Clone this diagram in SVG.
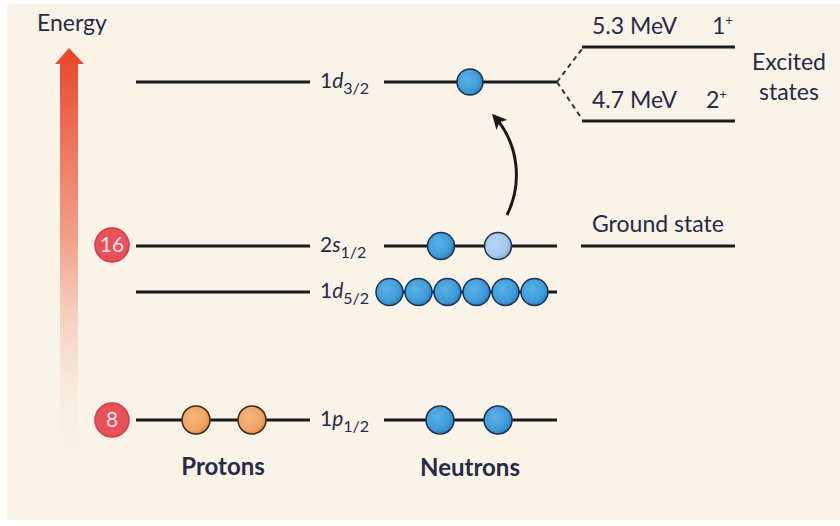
<svg xmlns="http://www.w3.org/2000/svg" width="840" height="526" viewBox="0 0 840 526">
<defs>
<linearGradient id="eg" x1="0" y1="0" x2="0" y2="1">
<stop offset="0" stop-color="#e8432b"/>
<stop offset="0.45" stop-color="#f08a70" stop-opacity="0.8"/>
<stop offset="1" stop-color="#f9f4e7" stop-opacity="0"/>
</linearGradient>
<radialGradient id="nb" cx="0.4" cy="0.4" r="0.65">
<stop offset="0" stop-color="#5ab2e6"/>
<stop offset="0.7" stop-color="#3f9bd8"/>
<stop offset="1" stop-color="#2a78bd"/>
</radialGradient>
<radialGradient id="nl" cx="0.4" cy="0.4" r="0.65">
<stop offset="0" stop-color="#b5d6f2"/>
<stop offset="0.7" stop-color="#a2c8ec"/>
<stop offset="1" stop-color="#7fa9d8"/>
</radialGradient>
<radialGradient id="pb" cx="0.4" cy="0.4" r="0.65">
<stop offset="0" stop-color="#f7b77c"/>
<stop offset="0.7" stop-color="#f3a565"/>
<stop offset="1" stop-color="#e0873c"/>
</radialGradient>
<marker id="ah" viewBox="0 0 10 10" refX="8" refY="5" markerWidth="5" markerHeight="5" orient="auto">
<path d="M0,0 L10,5 L0,10 L2.5,5 Z" fill="#1a1a1a"/>
</marker>
<style>
.lv{stroke:#1a1a1a;stroke-width:3;fill:none}
.t{font-family:Lato,"Open Sans",sans-serif;font-size:23px;fill:#262a48}
.lt{font-family:Lato,"Open Sans",sans-serif;font-size:21px;fill:#262a48}
.b{font-weight:bold;font-size:24px}
.sub{font-size:16px}
.n{fill:url(#nb);stroke:#1d3150;stroke-width:1.5}
.nl{fill:url(#nl);stroke:#1d3150;stroke-width:1.5}
.p{fill:url(#pb);stroke:#3a2a1a;stroke-width:1.5}
.badge{fill:#e8505a;stroke:#d33a47;stroke-width:1.5}
.bt{font-family:Lato,"Open Sans",sans-serif;font-size:21px;fill:#fde4e4;text-anchor:middle}
</style>
</defs>
<rect x="0" y="0" width="840" height="526" fill="#ffffff"/>
<rect x="7" y="4" width="833" height="516" fill="#f9f4e7"/>

<g id="energy-axis">
<path d="M60,64 L55,64 L69,48 L84,64 L78,64 L78,470 L60,470 Z" fill="url(#eg)"/>
<text class="t" x="37" y="31" font-size="21">Energy</text>
</g>

<g id="level-1d32">
<line class="lv" x1="136" y1="82" x2="310" y2="82"/>
<text class="lt" x="320" y="88">1<tspan font-style="italic">d</tspan><tspan class="sub" dy="6">3/2</tspan></text>
<line class="lv" x1="384" y1="82" x2="557" y2="82"/>
<circle class="n" cx="470" cy="82" r="13"/>
</g>

<g id="level-2s12">
<circle class="badge" cx="112" cy="245" r="17"/>
<text class="bt" x="112" y="252">16</text>
<line class="lv" x1="136" y1="246" x2="310" y2="246"/>
<text class="lt" x="320" y="252">2<tspan font-style="italic">s</tspan><tspan class="sub" dy="6">1/2</tspan></text>
<line class="lv" x1="384" y1="246" x2="557" y2="246"/>
<circle class="n" cx="441" cy="246" r="13.5"/>
<circle class="nl" cx="498" cy="246" r="13.5"/>
</g>

<g id="level-1d52">
<line class="lv" x1="136" y1="292" x2="310" y2="292"/>
<text class="lt" x="320" y="298">1<tspan font-style="italic">d</tspan><tspan class="sub" dy="6">5/2</tspan></text>
<line class="lv" x1="380" y1="292" x2="557" y2="292"/>
<circle class="n" cx="389.5" cy="292" r="13.5"/>
<circle class="n" cx="418.5" cy="292" r="13.5"/>
<circle class="n" cx="447.5" cy="292" r="13.5"/>
<circle class="n" cx="476.5" cy="292" r="13.5"/>
<circle class="n" cx="505.5" cy="292" r="13.5"/>
<circle class="n" cx="534.5" cy="292" r="13.5"/>
</g>

<g id="level-1p12">
<circle class="badge" cx="112" cy="420" r="17"/>
<text class="bt" x="112" y="427">8</text>
<line class="lv" x1="136" y1="420" x2="310" y2="420"/>
<circle class="p" cx="196" cy="420" r="14"/>
<circle class="p" cx="252" cy="420" r="14"/>
<text class="lt" x="320" y="426">1<tspan font-style="italic">p</tspan><tspan class="sub" dy="6">1/2</tspan></text>
<line class="lv" x1="384" y1="420" x2="557" y2="420"/>
<circle class="n" cx="440" cy="420" r="14"/>
<circle class="n" cx="498" cy="420" r="14"/>
</g>

<g id="labels">
<text class="t b" x="223" y="475" text-anchor="middle">Protons</text>
<text class="t b" x="470" y="476" text-anchor="middle">Neutrons</text>
</g>

<g id="excited-states">
<line class="lv" x1="582" y1="47" x2="735" y2="47"/>
<line class="lv" x1="582" y1="121" x2="735" y2="121"/>
<text class="t" x="592" y="34">5.3 MeV</text>
<text class="t" x="712" y="34">1<tspan font-size="13" dy="-9">+</tspan></text>
<text class="t" x="592" y="108">4.7 MeV</text>
<text class="t" x="706" y="108">2<tspan font-size="13" dy="-9">+</tspan></text>
<text class="t" x="789" y="70" text-anchor="middle">Excited</text>
<text class="t" x="789" y="100" text-anchor="middle">states</text>
</g>

<g id="ground-state">
<text class="t" x="592" y="232">Ground state</text>
<line class="lv" x1="581" y1="246" x2="735" y2="246"/>
</g>

<g id="connectors">
<path d="M557,82 L582,49" stroke="#333" stroke-width="2" stroke-dasharray="5,4" fill="none"/>
<path d="M557,82 L582,119" stroke="#333" stroke-width="2" stroke-dasharray="5,4" fill="none"/>
<path d="M507,215 C522,185 520,145 494,116" stroke="#1a1a1a" stroke-width="3" fill="none" marker-end="url(#ah)"/>
</g>
</svg>
